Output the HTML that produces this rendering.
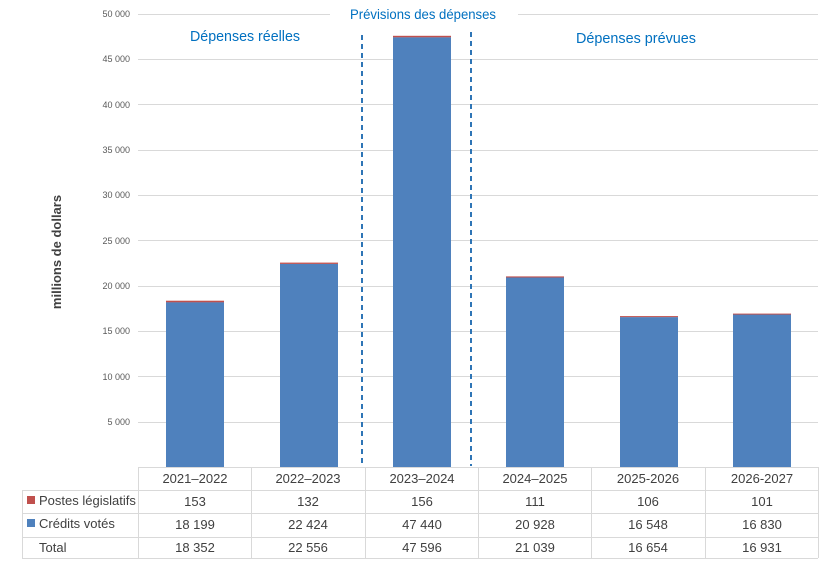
<!DOCTYPE html>
<html><head><meta charset="utf-8"><style>body{margin:0;background:#fff}svg{display:block}text{font-family:"Liberation Sans",sans-serif}</style></head><body>
<svg width="832" height="562" viewBox="0 0 832 562">
<g stroke="#d9d9d9" stroke-width="1">
<line x1="138" y1="14.5" x2="330" y2="14.5"/><line x1="518" y1="14.5" x2="818" y2="14.5"/>
<line x1="138" y1="59.5" x2="818" y2="59.5"/><line x1="138" y1="104.5" x2="818" y2="104.5"/>
<line x1="138" y1="150.5" x2="818" y2="150.5"/><line x1="138" y1="195.5" x2="818" y2="195.5"/>
<line x1="138" y1="240.5" x2="818" y2="240.5"/><line x1="138" y1="286.5" x2="818" y2="286.5"/>
<line x1="138" y1="331.5" x2="818" y2="331.5"/><line x1="138" y1="376.5" x2="818" y2="376.5"/>
<line x1="138" y1="422.5" x2="818" y2="422.5"/>
</g>
<g font-size="9" fill="#595959" text-anchor="end">
<text x="130" y="17">50 000</text><text x="130" y="62">45 000</text><text x="130" y="108">40 000</text>
<text x="130" y="153">35 000</text><text x="130" y="198">30 000</text><text x="130" y="244">25 000</text>
<text x="130" y="289">20 000</text><text x="130" y="334">15 000</text><text x="130" y="380">10 000</text>
<text x="130" y="425">5 000</text>
</g>
<text transform="translate(61,252) rotate(-90)" text-anchor="middle" font-size="13" font-weight="bold" fill="#404040">millions de dollars</text>
<g fill="#4f81bd">
<rect x="166" y="302.1" width="58" height="164.9"/>
<rect x="280" y="263.8" width="58" height="203.2"/>
<rect x="393" y="37.2" width="58" height="429.8"/>
<rect x="506" y="277.4" width="58" height="189.6"/>
<rect x="620" y="317.1" width="58" height="149.9"/>
<rect x="733" y="314.5" width="58" height="152.5"/>
</g>
<g fill="#c0504d">
<rect x="166" y="300.7" width="58" height="1.6"/>
<rect x="280" y="262.6" width="58" height="1.3"/>
<rect x="393" y="35.8" width="58" height="1.5"/>
<rect x="506" y="276.4" width="58" height="1.1"/>
<rect x="620" y="316.1" width="58" height="1.0"/>
<rect x="733" y="313.6" width="58" height="1.0"/>
</g>
<g stroke="#2e75b6" stroke-width="2" stroke-dasharray="5,4">
<line x1="362" y1="35" x2="362" y2="466"/><line x1="471" y1="32" x2="471" y2="466"/>
</g>
<g fill="#0070c0" font-size="15">
<text x="190" y="41" textLength="110" lengthAdjust="spacingAndGlyphs">Dépenses réelles</text>
<text x="350" y="19" font-size="14" textLength="146" lengthAdjust="spacingAndGlyphs">Prévisions des dépenses</text>
<text x="576" y="43" textLength="120" lengthAdjust="spacingAndGlyphs">Dépenses prévues</text>
</g>
<g stroke="#d9d9d9" stroke-width="1" fill="none">
<line x1="138" y1="467.5" x2="818" y2="467.5"/>
<line x1="22" y1="490.5" x2="818" y2="490.5"/>
<line x1="22" y1="513.5" x2="818" y2="513.5"/>
<line x1="22" y1="537.5" x2="818" y2="537.5"/>
<line x1="22" y1="558.5" x2="818" y2="558.5"/>
<line x1="22.5" y1="490" x2="22.5" y2="558"/>
<line x1="138.5" y1="467" x2="138.5" y2="558"/>
<line x1="251.5" y1="467" x2="251.5" y2="558"/>
<line x1="365.5" y1="467" x2="365.5" y2="558"/>
<line x1="478.5" y1="467" x2="478.5" y2="558"/>
<line x1="591.5" y1="467" x2="591.5" y2="558"/>
<line x1="705.5" y1="467" x2="705.5" y2="558"/>
<line x1="818.5" y1="467" x2="818.5" y2="558"/>
</g>
<rect x="27" y="496" width="8" height="8" fill="#c0504d"/>
<rect x="27" y="519" width="8" height="8" fill="#4f81bd"/>
<g font-size="13" fill="#404040">
<text x="39" y="505">Postes législatifs</text>
<text x="39" y="528">Crédits votés</text>
<text x="39" y="552">Total</text>
</g>
<g font-size="13" fill="#404040" text-anchor="middle">
<text x="195" y="483">2021–2022</text><text x="308" y="483">2022–2023</text><text x="422" y="483">2023–2024</text>
<text x="535" y="483">2024–2025</text><text x="648" y="483">2025-2026</text><text x="762" y="483">2026-2027</text>
<text x="195" y="506">153</text><text x="308" y="506">132</text><text x="422" y="506">156</text>
<text x="535" y="506">111</text><text x="648" y="506">106</text><text x="762" y="506">101</text>
<text x="195" y="529">18 199</text><text x="308" y="529">22 424</text><text x="422" y="529">47 440</text>
<text x="535" y="529">20 928</text><text x="648" y="529">16 548</text><text x="762" y="529">16 830</text>
<text x="195" y="552">18 352</text><text x="308" y="552">22 556</text><text x="422" y="552">47 596</text>
<text x="535" y="552">21 039</text><text x="648" y="552">16 654</text><text x="762" y="552">16 931</text>
</g>
</svg>
</body></html>
